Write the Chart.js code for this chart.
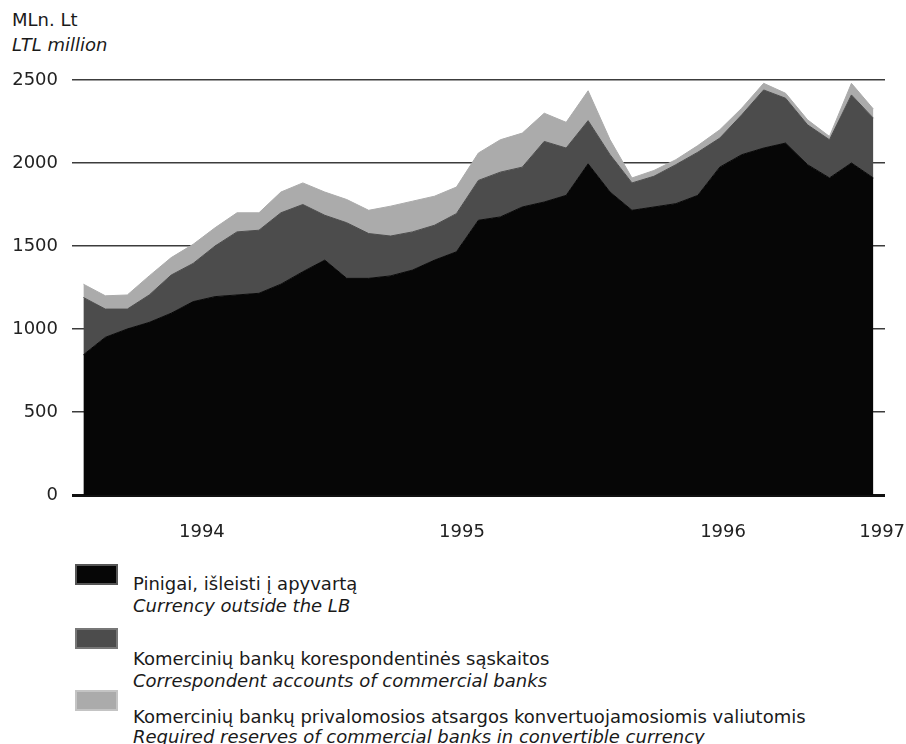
<!DOCTYPE html>
<html>
<head>
<meta charset="utf-8">
<script src="https://cdn.jsdelivr.net/npm/chart.js@4/dist/chart.umd.min.js"></script>
<style>
  html, body { margin: 0; padding: 0; background: #fff; }
  body { width: 906px; height: 744px; position: relative; overflow: hidden; font-family: "DejaVu Sans", sans-serif; color: #1a1a1a; }
  #wrap { position: absolute; left: 0; top: 0; width: 906px; height: 545px; }
  .t { position: absolute; font-size: 18px; line-height: 22px; white-space: nowrap; }
  .i { font-style: italic; }
  .sw { position: absolute; width: 43px; height: 21px; left: 75px; box-sizing: border-box; }
</style>
</head>
<body>
<div class="t" style="left:12px;top:9px">MLn. Lt</div>
<div class="t i" style="left:12px;top:34px">LTL million</div>
<div id="wrap"><canvas id="c" width="906" height="545"></canvas></div>
<div id="legend"></div>
<script>
// month categories (monthly observations)
const months = ['1994-01','1994-02','1994-03','1994-04','1994-05','1994-06','1994-07','1994-08','1994-09','1994-10','1994-11','1994-12',
                '1995-01','1995-02','1995-03','1995-04','1995-05','1995-06','1995-07','1995-08','1995-09','1995-10','1995-11','1995-12',
                '1996-01','1996-02','1996-03','1996-04','1996-05','1996-06','1996-07','1996-08','1996-09','1996-10','1996-11','1996-12',
                '1997-01'];
// series values, LTL million
const currency = [845,950,1000,1040,1095,1165,1195,1205,1215,1270,1345,1415,1305,1305,1320,1355,1415,1465,1655,1675,1735,1765,1805,1995,1825,1715,1735,1755,1805,1975,2050,2090,2120,1990,1910,2000,1910];
const correspondent = [345,170,120,165,230,230,305,380,380,430,405,270,335,270,240,230,210,230,240,270,240,365,285,260,225,165,185,235,260,175,240,350,270,240,230,410,360];
const reserves = [80,80,85,115,105,115,110,115,105,125,130,140,140,140,180,185,175,160,165,195,205,170,155,180,90,30,35,30,40,50,40,40,30,30,20,70,55];
// axis labels
const yearLabels = ['1994','1995','1996','1997'];
const yearTickAt = [5.4, 17.25, 29.15, 36.4];
const yTicks = [0, 500, 1000, 1500, 2000, 2500];
// series names
const namesLt = ['Pinigai, išleisti į apyvartą','Komercinių bankų korespondentinės sąskaitos','Komercinių bankų privalomosios atsargos konvertuojamosiomis valiutomis'];
const namesEn = ['Currency outside the LB','Correspondent accounts of commercial banks','Required reserves of commercial banks in convertible currency'];

const colors = ['#060606', '#4c4c4c', '#ababab'];
const series = [currency, correspondent, reserves];

const datasets = series.map((vals, k) => ({
  label: namesEn[k],
  data: vals.map((v, i) => ({ x: i, y: v })),
  backgroundColor: colors[k],
  borderColor: colors[k],
  borderWidth: 1,
  pointRadius: 0,
  tension: 0,
  fill: k === 0 ? 'origin' : '-1'
}));

const tickFont = { family: '"DejaVu Sans", sans-serif', size: 18 };

new Chart(document.getElementById('c'), {
  type: 'line',
  data: { labels: months, datasets },
  options: {
    responsive: false,
    animation: false,
    events: [],
    layout: { padding: { top: 80, right: 21, left: 0, bottom: 0 } },
    plugins: { legend: { display: false }, tooltip: { enabled: false } },
    scales: {
      x: {
        type: 'linear',
        min: -0.52,
        max: 36.53,
        grid: { display: false },
        border: { display: false },
        ticks: {
          autoSkip: false, maxRotation: 0, padding: 19,
          font: tickFont, color: '#222',
          callback: (v, i) => yearLabels[i]
        },
        afterBuildTicks: s => { s.ticks = yearTickAt.map(v => ({ value: v })); },
        afterFit: s => { s.height = 50; s.paddingLeft = 0; s.paddingRight = 0; }
      },
      y: {
        stacked: true,
        min: 0, max: 2500,
        grid: {
          drawTicks: false,
          color: c => (c.tick && c.tick.value === 0) ? '#111' : '#3c3c3c',
          lineWidth: c => (c.tick && c.tick.value === 0) ? 3 : 1.5
        },
        border: { display: false },
        ticks: { padding: 14, font: tickFont, color: '#222', callback: v => String(v) },
        afterBuildTicks: s => { s.ticks = yTicks.map(v => ({ value: v })); },
        afterFit: s => { s.width = 72; s.paddingTop = 0; s.paddingBottom = 0; }
      }
    }
  }
});

// legend
const swTop = [564, 628, 690];
const txtTop = [573, 648, 706];
const lg = document.getElementById('legend');
namesLt.forEach((n, k) => {
  const sw = document.createElement('div');
  sw.className = 'sw';
  sw.style.top = swTop[k] + 'px';
  sw.style.background = colors[k];
  sw.style.border = '2px solid ' + (k === 0 ? '#555' : (k === 1 ? '#777' : '#c4c4c4'));
  lg.appendChild(sw);
  const a = document.createElement('div');
  a.className = 't';
  a.style.left = '133px';
  a.style.top = txtTop[k] + 'px';
  a.textContent = n;
  lg.appendChild(a);
  const b = document.createElement('div');
  b.className = 't i';
  b.style.left = '133px';
  b.style.top = (txtTop[k] + (k === 2 ? 20 : 22)) + 'px';
  b.textContent = namesEn[k];
  lg.appendChild(b);
});
</script>
</body>
</html>
